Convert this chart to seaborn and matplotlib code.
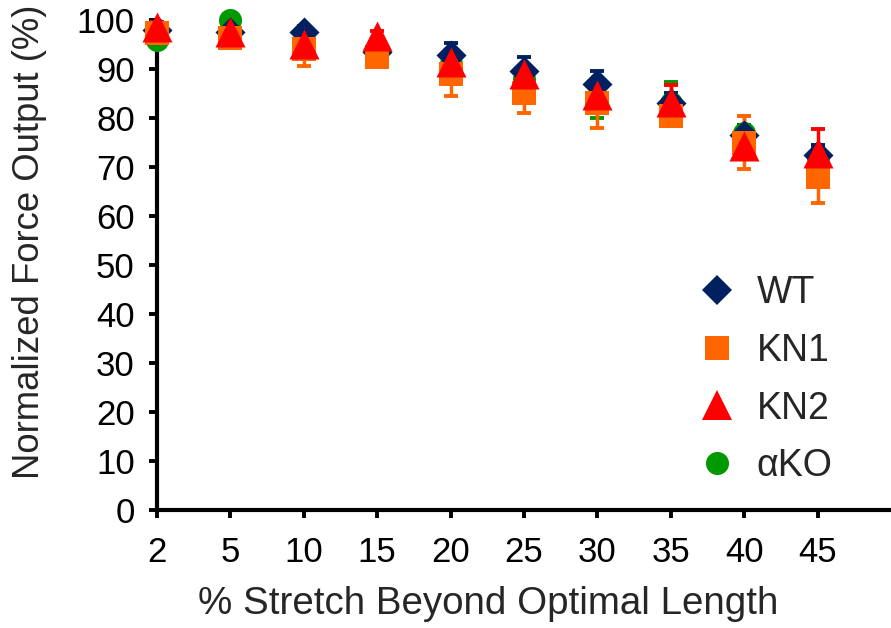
import numpy as np
import pandas as pd
import matplotlib
matplotlib.use('Agg')
import matplotlib.pyplot as plt
from matplotlib.lines import Line2D
import seaborn as sns

# dados
stretch = ['2', '5', '10', '15', '20', '25', '30', '35', '40', '45']

wt = [98.0, 97.5, 97.5, 93.5, 92.8, 89.5, 87.0, 83.0, 76.5, 72.5]
wt_err = [1.0, 1.0, 1.2, 1.0, 2.5, 3.0, 2.5, 2.0, 2.0, 2.0]

kn1 = [97.3, 96.3, 94.0, 92.4, 89.0, 85.0, 83.0, 80.5, 75.0, 68.0]
kn1_err = [1.5, 1.0, 3.4, 1.5, 4.6, 4.0, 5.0, 1.5, 5.5, 5.3]

kn2 = [98.5, 97.5, 95.0, 96.7, 91.4, 89.0, 84.7, 83.3, 74.3, 72.8]
kn2_err = [1.0, 1.0, 1.0, 1.0, 1.5, 1.5, 2.0, 3.4, 2.0, 5.0]

ako = [96.0, 100.0, 95.0, 94.0, 91.0, 88.0, 84.0, 83.0, 77.0, 72.0]
ako_err = [1.0, 0.5, 1.0, 1.0, 1.5, 2.0, 4.0, 4.3, 3.5, 2.0]

# ordem de desenho (de baixo para cima)
grupos = ['αKO', 'WT', 'KN1', 'KN2']
valores = {'WT': wt, 'KN1': kn1, 'KN2': kn2, 'αKO': ako}
erros = {'WT': wt_err, 'KN1': kn1_err, 'KN2': kn2_err, 'αKO': ako_err}
cores = {'WT': '#002060', 'KN1': '#FF6600', 'KN2': '#FF0000', 'αKO': '#009900'}
marcadores = {'WT': 'D', 'KN1': 's', 'KN2': '^', 'αKO': 'o'}
tamanhos = {'WT': 15.3, 'KN1': 16.6, 'KN2': 21.6, 'αKO': 16.6}

sns.set_style('ticks')
plt.rcParams['font.family'] = ['Liberation Sans', 'DejaVu Sans']

fig = plt.figure(figsize=(8.91, 6.28), dpi=100)
ax = fig.add_axes([157 / 891, 1 - 510 / 628, 1 - 157 / 891, (510 - 20) / 628])

pos = np.arange(len(stretch))

# barras de erro primeiro
for g in grupos:
    ax.errorbar(pos, valores[g], yerr=erros[g], fmt='none', ecolor=cores[g],
                elinewidth=2.5, capsize=4.7, capthick=2.8, zorder=2, clip_on=False)

# marcadores
for i, g in enumerate(grupos):
    df = pd.DataFrame({'x': pos, 'y': valores[g]})
    sns.scatterplot(data=df, x='x', y='y', ax=ax, marker=marcadores[g], color=cores[g],
                    s=tamanhos[g] ** 2, linewidth=0, zorder=3 + i, clip_on=False)

ax.set_xlim(0, 10)
ax.set_ylim(0, 100)
ax.set_xticks(pos)
ax.set_xticklabels(stretch)
ax.set_yticks(np.arange(0, 101, 10))

sns.despine(ax=ax)
for s in ['left', 'bottom']:
    ax.spines[s].set_linewidth(3)
    ax.spines[s].set_color('black')
ax.tick_params(axis='both', direction='out', length=6, width=2.8, colors='black', labelsize=25)
ax.tick_params(axis='x', pad=13)
ax.tick_params(axis='y', pad=10)

ax.set_xlabel('% Stretch Beyond Optimal Length', fontsize=27.7)
ax.set_ylabel('Normalized Force Output (%)', fontsize=26.3)
ax.xaxis.set_label_coords(0.451, -0.155)
ax.yaxis.set_label_coords(-0.15, 0.547)

ordem = ['WT', 'KN1', 'KN2', 'αKO']
handles = [Line2D([0], [0], linestyle='none', marker=marcadores[g], color=cores[g],
                  markersize=tamanhos[g], markeredgewidth=0) for g in ordem]
ax.legend(handles, ordem, loc='upper left', bbox_to_anchor=(698 / 891, 1 - 275 / 628),
          bbox_transform=fig.transFigure, frameon=False, fontsize=27, borderpad=0,
          handlelength=1.0, handletextpad=0.57, labelspacing=0.58, borderaxespad=0)

fig.savefig('out.png', dpi=100)
